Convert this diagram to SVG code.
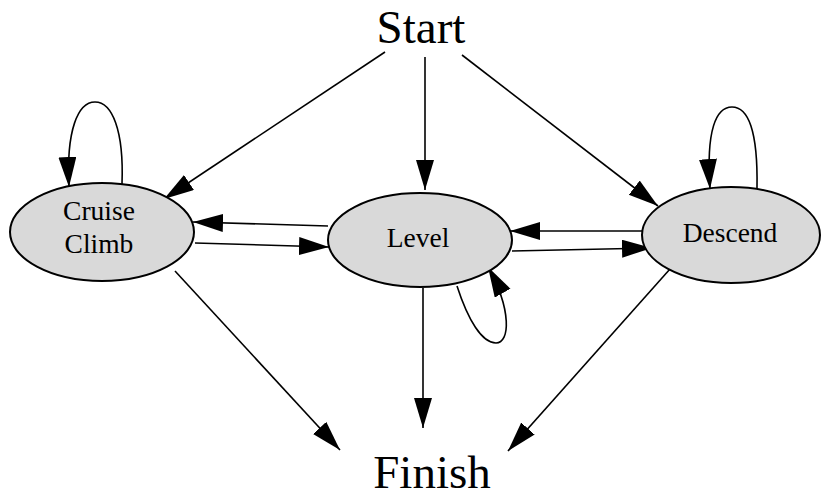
<svg xmlns="http://www.w3.org/2000/svg" width="821" height="498" viewBox="0 0 821 498">
<defs>
<marker id="ah" markerUnits="userSpaceOnUse" markerWidth="32" markerHeight="20" refX="30" refY="9" orient="auto">
<path d="M0,0 L30,9 L0,18 z" fill="#000"/>
</marker>
<style>
.node ellipse{fill:#d9d9d9;stroke:#000;stroke-width:2}
.lbl{font-family:"Liberation Serif","Times New Roman",serif;fill:#000;text-anchor:middle}
.edges path{fill:none;stroke:#000;stroke-width:1.6;marker-end:url(#ah)}
</style>
</defs>
<rect width="821" height="498" fill="#fff"/>
<g id="edges" class="edges">
<path d="M385,52 L164,199"/>
<path d="M425,57 L425,190"/>
<path d="M462,55 L658,206"/>
<path d="M122,184 C124,130 112,102 95,102 C78,102 66,130 69,187"/>
<path d="M328,226 L193,222"/>
<path d="M195,243 L329,247"/>
<path d="M647,231 L510,231"/>
<path d="M512,251 L652,248"/>
<path d="M457,286 C468,320 482,343 496,343 C510,343 512,310 488,267"/>
<path d="M757,188 C758,130 748,107 732,107 C716,107 706,130 710,189"/>
<path d="M423,288 L423,428"/>
<path d="M175,271 L340,450"/>
<path d="M670,269 L508,451"/>
</g>
<g id="start" class="node"><text class="lbl" x="421" y="43" font-size="47">Start</text></g>
<g id="cruise" class="node"><ellipse cx="102" cy="232" rx="92" ry="49"/><text class="lbl" x="99" y="220" font-size="27.5">Cruise</text><text class="lbl" x="99" y="253" font-size="27.5">Climb</text></g>
<g id="level" class="node"><ellipse cx="420" cy="240" rx="92" ry="47"/><text class="lbl" x="418" y="247" font-size="27.5">Level</text></g>
<g id="descend" class="node"><ellipse cx="731" cy="235" rx="89" ry="48"/><text class="lbl" x="730" y="242" font-size="27.5">Descend</text></g>
<g id="finish" class="node"><text class="lbl" x="432" y="488" font-size="47">Finish</text></g>
</svg>
